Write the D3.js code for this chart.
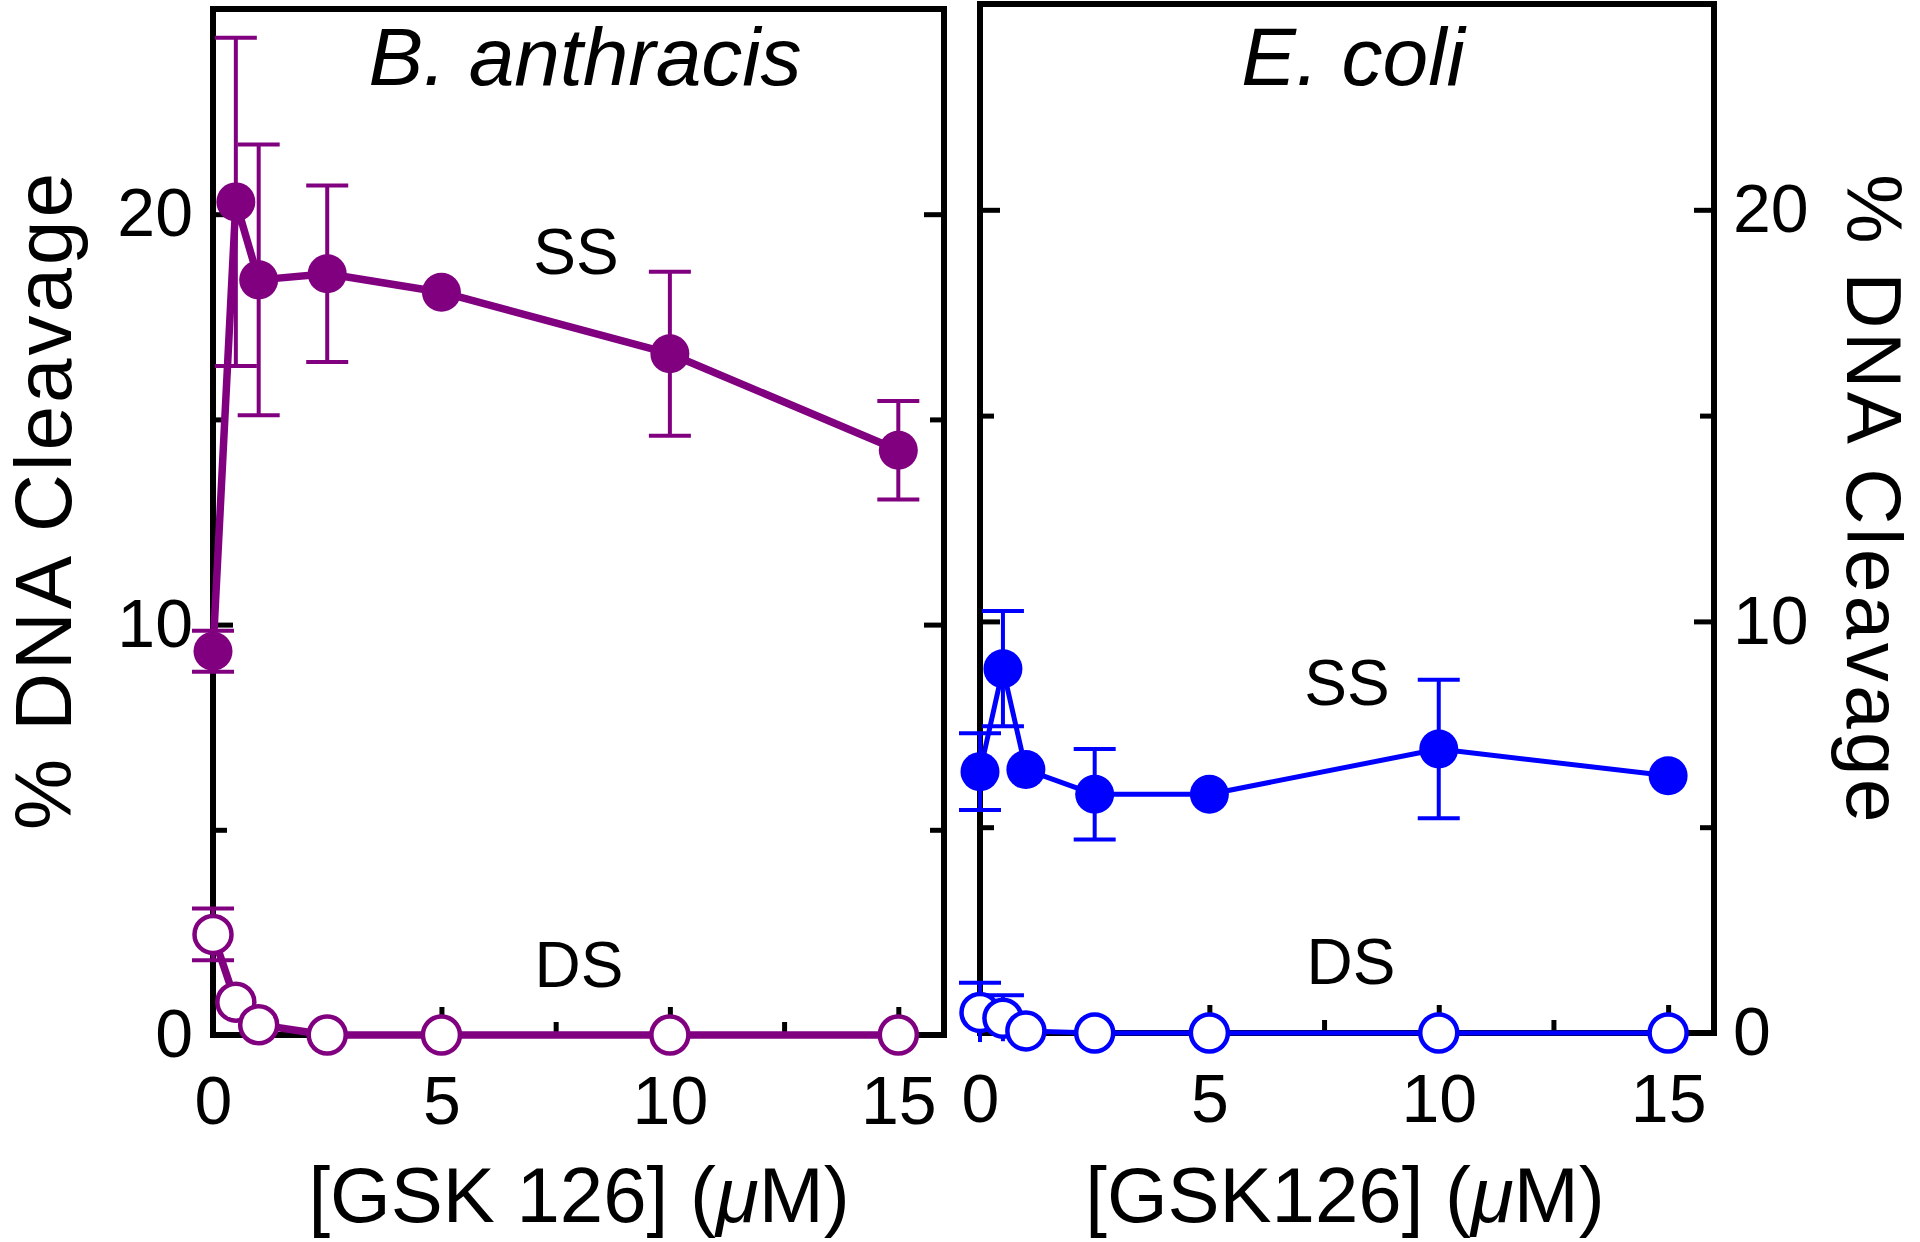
<!DOCTYPE html>
<html>
<head>
<meta charset="utf-8">
<script src="https://cdn.jsdelivr.net/npm/d3@7"></script>
<style>
  html, body { margin: 0; padding: 0; background: #fff; }
  svg { display: block; }
  text { font-family: "Liberation Sans", Arial, Helvetica, sans-serif; fill: #000; }
</style>
</head>
<body>
<svg id="chart" width="1920" height="1242"></svg>
<script>
// ---------------- DATA ----------------
const concentrations = [0, 0.5, 1, 2.5, 5, 10, 15];           // [GSK126] (µM)

// B. anthracis
const baSS    = [9.35, 20.3, 18.4, 18.55, 18.1, 16.6, 14.25];
const baSSerr = [0.5, 4.0, 3.3, 2.15, null, 2.0, 1.2];
const baDS    = [2.45, 0.8, 0.25, 0, 0, 0, 0];
const baDSerr = [0.63, null, null, null, null, null, null];

// E. coli
const ecSS    = [6.35, 8.85, 6.4, 5.8, 5.8, 6.9, 6.25];
const ecSSerr = [0.93, 1.4, null, 1.1, null, 1.68, null];
const ecDS    = [0.5, 0.36, 0.05, 0, 0, 0, 0];
const ecDSerr = [0.72, 0.56, null, null, null, null, null];

const xMajorTicks = [0, 5, 10, 15];
const xMinorTicks = [2.5, 7.5, 12.5];
const yMajorTicks = [0, 10, 20];
const yMinorTicks = [5, 15];

const panelTitles = ["B. anthracis", "E. coli"];
const xTitles = ["[GSK 126] (", "[GSK126] ("];
const yTitle = "% DNA Cleavage";

// ---------------- LAYOUT ----------------
const svg = d3.select("#chart");
const purple = "#800080";
const blue = "#0000ff";

const panels = [
  {
    x: d3.scaleLinear().domain([0, 16]).range([213, 944]),
    y: d3.scaleLinear().domain([0, 25]).range([1035, 9]),
    color: purple, lineW: 7.5, labelSide: "left",
    ss: baSS, ssErr: baSSerr, ds: baDS, dsErr: baDSerr,
    title: panelTitles[0], titleX: 585, xTitle: xTitles[0], xTitleX: 579,
    ssLab: [576, 274], dsLab: [579, 987]
  },
  {
    x: d3.scaleLinear().domain([0, 16]).range([980, 1714]),
    y: d3.scaleLinear().domain([0, 25]).range([1033, 4]),
    color: blue, lineW: 5, labelSide: "right",
    ss: ecSS, ssErr: ecSSerr, ds: ecDS, dsErr: ecDSerr,
    title: panelTitles[1], titleX: 1353, xTitle: xTitles[1], xTitleX: 1345,
    ssLab: [1347, 705], dsLab: [1351, 984]
  }
];

const R = 19.5;

panels.forEach(p => {
  const [x0, x1] = p.x.range();
  const [y0, y1] = p.y.range();
  const g = svg.append("g");

  // ---- axes (ticks inward) ----
  const styleAxis = sel => {
    sel.select(".domain").remove();
    sel.selectAll(".tick line").attr("stroke", "#000").attr("stroke-width", 5);
    sel.selectAll(".tick text").attr("font-size", 68).attr("fill", "#000")
       .attr("font-family", "Liberation Sans, Arial, sans-serif");
  };

  g.append("g").attr("transform", `translate(0,${y0})`)
    .call(d3.axisBottom(p.x).tickValues(xMajorTicks).tickSize(-28).tickPadding(41).tickFormat(d3.format("d")))
    .call(styleAxis);
  g.append("g").attr("transform", `translate(0,${y0})`)
    .call(d3.axisBottom(p.x).tickValues(xMinorTicks).tickSize(-13).tickFormat(""))
    .call(styleAxis);

  const leftLabels = p.labelSide === "left";
  g.append("g").attr("transform", `translate(${x0},0)`)
    .call(d3.axisLeft(p.y).tickValues(yMajorTicks).tickSize(-20).tickPadding(20)
      .tickFormat(leftLabels ? d3.format("d") : ""))
    .call(styleAxis);
  g.append("g").attr("transform", `translate(${x0},0)`)
    .call(d3.axisLeft(p.y).tickValues(yMinorTicks).tickSize(-14).tickFormat(""))
    .call(styleAxis);
  g.append("g").attr("transform", `translate(${x1},0)`)
    .call(d3.axisRight(p.y).tickValues(yMajorTicks).tickSize(-20).tickPadding(19)
      .tickFormat(leftLabels ? "" : d3.format("d")))
    .call(styleAxis);
  g.append("g").attr("transform", `translate(${x1},0)`)
    .call(d3.axisRight(p.y).tickValues(yMinorTicks).tickSize(-14).tickFormat(""))
    .call(styleAxis);

  // frame
  g.append("rect")
    .attr("x", x0).attr("y", y1)
    .attr("width", x1 - x0).attr("height", y0 - y1)
    .attr("fill", "none").attr("stroke", "#000").attr("stroke-width", 6);

  // ---- data ----
  const line = d3.line().x((d, i) => p.x(concentrations[i])).y(d => p.y(d));

  const drawSeries = (vals, errs, filled) => {
    g.append("path").datum(vals)
      .attr("d", line).attr("fill", "none")
      .attr("stroke", p.color).attr("stroke-width", p.lineW)
      .attr("stroke-linejoin", "round");

    const eb = g.append("g").attr("stroke", p.color).attr("stroke-width", 4);
    vals.forEach((v, i) => {
      const e = errs[i];
      if (e == null) return;
      const cx = p.x(concentrations[i]);
      const top = p.y(v + e), bot = p.y(Math.max(v - e, -1));
      eb.append("line").attr("x1", cx).attr("x2", cx).attr("y1", top).attr("y2", bot);
      eb.append("line").attr("x1", cx - 21).attr("x2", cx + 21).attr("y1", top).attr("y2", top);
      if (v - e > 0) {
        eb.append("line").attr("x1", cx - 21).attr("x2", cx + 21).attr("y1", bot).attr("y2", bot);
      }
    });

    g.append("g").selectAll("circle").data(vals).join("circle")
      .attr("cx", (d, i) => p.x(concentrations[i]))
      .attr("cy", d => p.y(d))
      .attr("r", filled ? R : R - 1)
      .attr("fill", filled ? p.color : "#fff")
      .attr("stroke", p.color)
      .attr("stroke-width", filled ? 0 : 4.5);
  };

  drawSeries(p.ds, p.dsErr, false);
  drawSeries(p.ss, p.ssErr, true);

  // ---- texts ----
  g.append("text").attr("x", p.titleX).attr("y", 85)
    .attr("text-anchor", "middle").attr("font-size", 82).attr("font-style", "italic")
    .text(p.title);

  g.append("text").attr("x", p.ssLab[0]).attr("y", p.ssLab[1])
    .attr("text-anchor", "middle").attr("font-size", 64).text("SS");
  g.append("text").attr("x", p.dsLab[0]).attr("y", p.dsLab[1])
    .attr("text-anchor", "middle").attr("font-size", 64).text("DS");

  const xt = g.append("text").attr("x", p.xTitleX).attr("y", 1222)
    .attr("text-anchor", "middle").attr("font-size", 78);
  xt.append("tspan").text(p.xTitle);
  xt.append("tspan").attr("font-style", "italic").text("\u03bc");
  xt.append("tspan").text("M)");
});

// y-axis titles
svg.append("text")
  .attr("transform", "translate(42,500) rotate(-90)")
  .attr("dy", "0.36em").attr("text-anchor", "middle").attr("font-size", 80)
  .attr("letter-spacing", 3)
  .text(yTitle);
svg.append("text")
  .attr("transform", "translate(1875,500) rotate(90)")
  .attr("dy", "0.36em").attr("text-anchor", "middle").attr("font-size", 78)
  .attr("letter-spacing", 3.5)
  .text(yTitle);
</script>
</body>
</html>
